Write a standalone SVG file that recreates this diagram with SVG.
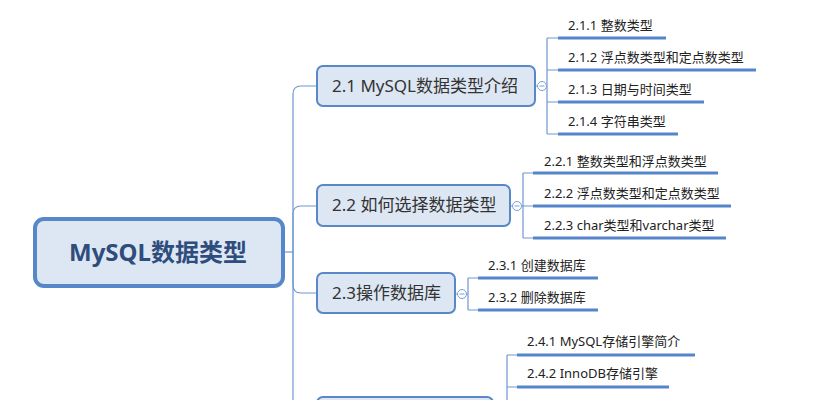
<svg xmlns="http://www.w3.org/2000/svg" width="813" height="400" viewBox="0 0 813 400">
<style>
.conn{fill:none;stroke:#6f97d2;stroke-width:1.2}
.ul{stroke:#5586cc;stroke-width:3;fill:none}
.sub rect{fill:#dde7f3;stroke:#5a87c8;stroke-width:2}
.sub text{font-family:"Noto Sans","Noto Sans CJK SC",sans-serif;font-size:17px;fill:#333333}
.leaf text{font-family:"Noto Sans","Noto Sans CJK SC",sans-serif;font-size:13px;fill:#222222}
.tog{fill:#ffffff;stroke:#7b9fd4;stroke-width:1}
</style>
<rect width="813" height="400" fill="#ffffff"/>
<g id="connectors">
<path class="conn" d="M284,252 H293"/>
<path class="conn" d="M293,252 V94 Q293,86 301,86 H317"/>
<path class="conn" d="M293,252 V214 Q293,206 301,206 H317"/>
<path class="conn" d="M293,252 V285 Q293,293 301,293 H317"/>
<path class="conn" d="M293,252 V402"/>
<path class="conn" d="M535,86 H537.5 M546.5,86 H547 M547,38 V134 M547,38 H558 M547,70 H558 M547,102 H558 M547,134 H558"/>
<path class="conn" d="M510,206 H512.5 M521.5,206 H523 M523,173 V238 M523,173 H533 M523,206 H533 M523,238 H533"/>
<path class="conn" d="M455,294 H457.5 M466.5,294 H468 M468,278 V310 M468,278 H478 M468,310 H478"/>
<path class="conn" d="M507,355 V402 M507,355 H517 M507,387 H517"/>
<circle class="tog" cx="542" cy="86" r="4.5"/><path d="M539.5,86 H544.5" stroke="#7b9fd4" stroke-width="1"/>
<circle class="tog" cx="517" cy="206" r="4.5"/><path d="M514.5,206 H519.5" stroke="#7b9fd4" stroke-width="1"/>
<circle class="tog" cx="462" cy="294" r="4.5"/><path d="M459.5,294 H464.5" stroke="#7b9fd4" stroke-width="1"/>
</g>
<g id="root">
<rect x="35" y="219" width="248" height="67" rx="9" fill="#dde7f3" stroke="#5587c9" stroke-width="4"/>
<text x="158" y="261" text-anchor="middle" font-family="Noto Sans,Noto Sans CJK SC,sans-serif" font-size="24" font-weight="bold" fill="#2f4d7c">MySQL数据类型</text>
</g>
<g id="n21" class="sub">
<rect x="317" y="66" width="218" height="40" rx="6"/>
<text x="332" y="92">2.1 MySQL数据类型介绍</text>
</g>
<g id="n22" class="sub">
<rect x="317" y="185" width="193" height="41" rx="6"/>
<text x="332" y="211">2.2 如何选择数据类型</text>
</g>
<g id="n23" class="sub">
<rect x="317" y="273" width="138" height="40" rx="6"/>
<text x="332" y="299">2.3操作数据库</text>
</g>
<g id="n24" class="sub">
<rect x="317" y="397" width="176" height="40" rx="6"/>
</g>
<g id="l211" class="leaf"><text x="568" y="30">2.1.1 整数类型</text><path class="ul" d="M558,38 H666"/></g>
<g id="l212" class="leaf"><text x="568" y="62">2.1.2 浮点数类型和定点数类型</text><path class="ul" d="M558,70 H756"/></g>
<g id="l213" class="leaf"><text x="568" y="94">2.1.3 日期与时间类型</text><path class="ul" d="M558,102 H704"/></g>
<g id="l214" class="leaf"><text x="568" y="126">2.1.4 字符串类型</text><path class="ul" d="M558,134 H678"/></g>
<g id="l221" class="leaf"><text x="544" y="166">2.2.1 整数类型和浮点数类型</text><path class="ul" d="M533,173 H718"/></g>
<g id="l222" class="leaf"><text x="544" y="198">2.2.2 浮点数类型和定点数类型</text><path class="ul" d="M533,206 H731"/></g>
<g id="l223" class="leaf"><text x="544" y="230">2.2.3 char类型和varchar类型</text><path class="ul" d="M533,238 H726"/></g>
<g id="l231" class="leaf"><text x="488" y="270">2.3.1 创建数据库</text><path class="ul" d="M478,278 H598"/></g>
<g id="l232" class="leaf"><text x="488" y="302">2.3.2 删除数据库</text><path class="ul" d="M478,310 H598"/></g>
<g id="l241" class="leaf"><text x="527" y="346">2.4.1 MySQL存储引擎简介</text><path class="ul" d="M517,355 H695"/></g>
<g id="l242" class="leaf"><text x="527" y="378">2.4.2 InnoDB存储引擎</text><path class="ul" d="M517,387 H669"/></g>
</svg>
